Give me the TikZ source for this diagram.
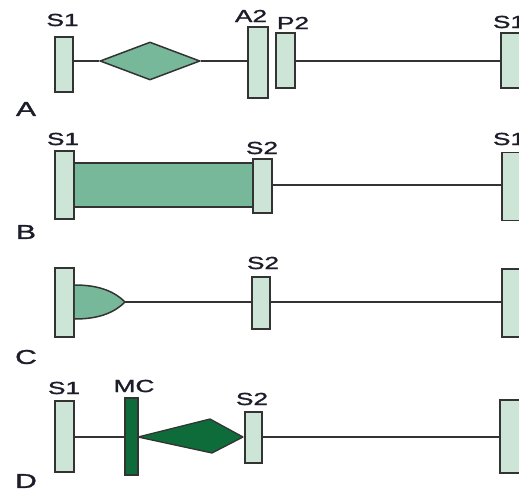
\documentclass[tikz,border=0pt]{standalone}
\usepackage{fontspec}
\setmainfont{Liberation Sans}
\newfontfamily\lblfont[FakeBold=1.3]{Liberation Sans}
\usetikzlibrary{shapes.geometric}
\definecolor{barfill}{HTML}{CDE5D7}
\definecolor{midfill}{HTML}{78B89A}
\definecolor{darkfill}{HTML}{0E6B3A}
\definecolor{edge}{HTML}{333333}
\definecolor{txt}{HTML}{1C1C2A}
\tikzset{
  bar/.style={draw=edge, fill=barfill, line width=1.5pt, rectangle, inner sep=0pt},
  conn/.style={draw=edge, line width=2pt},
  lbl/.style={text=txt, font=\lblfont\fontsize{17.5}{17.5}\selectfont, inner sep=0pt},
  rowlbl/.style={text=txt, font=\lblfont\fontsize{20}{20}\selectfont, inner sep=0pt},
}
\newcommand{\wide}[1]{\scalebox{1.5}[1]{#1}}
\begin{document}
\begin{tikzpicture}[x=1pt,y=-1pt]
\useasboundingbox (0,0) rectangle (519,490);
% ---------- Row A ----------
\node[bar, minimum width=18pt, minimum height=55pt] (as1) at (64,64.5) {};
\node[diamond, draw=edge, fill=midfill, line width=1.5pt, inner sep=0pt, minimum width=100pt, minimum height=38pt] (adia) at (150,61) {};
\node[bar, minimum width=20pt, minimum height=71pt] (aa2) at (258,62.5) {};
\node[bar, minimum width=19pt, minimum height=55pt] (ap2) at (285.5,60.5) {};
\node[bar, minimum width=20pt, minimum height=55pt] (ar) at (511,60.5) {};
\draw[conn] (as1.east |- adia.west) -- (adia.west);
\draw[conn] (adia.east) -- (adia.east -| aa2.west);
\draw[conn] (ap2.east) -- (ar.west);
\node[lbl] (las1) at (62.5,20) {\wide{S1}};
\node[lbl] (laa2) at (251,16) {\wide{A2}};
\node[lbl] (lap2) at (293,23) {\wide{P2}};
\node[lbl] (lar) at (509,22) {\wide{S1}};
\node[rowlbl] (rowa) at (26,109) {\wide{A}};
% ---------- Row B ----------
\node[draw=edge, fill=midfill, line width=1.5pt, rectangle, inner sep=0pt, minimum width=179pt, minimum height=44pt] (brect) at (163.5,185) {};
\node[bar, minimum width=19pt, minimum height=68pt] (bs1) at (64.5,185) {};
\node[bar, minimum width=19pt, minimum height=54pt] (bs2) at (262.5,186) {};
\node[bar, minimum width=20pt, minimum height=68pt] (br) at (512,186.5) {};
\draw[conn] (bs2.east |- brect.east) -- (brect.east -| br.west);
\node[lbl] (lbs1) at (63,139) {\wide{S1}};
\node[lbl] (lbs2) at (262,148) {\wide{S2}};
\node[lbl] (lbr) at (509,139) {\wide{S1}};
\node[rowlbl] (rowb) at (26,232) {\wide{B}};
% ---------- Row C ----------
\node[bar, minimum width=19pt, minimum height=69pt] (cs1) at (64.5,302.5) {};
\coordinate (ctip) at (125,302);
\draw[draw=edge, fill=midfill, line width=1.5pt] (cs1.east |- 0,285) .. controls (100,285) and (115,292) .. (ctip) .. controls (115,312) and (100,319) .. (cs1.east |- 0,319);
\node[bar, minimum width=18pt, minimum height=52pt] (cs2) at (261,303) {};
\node[bar, minimum width=18pt, minimum height=68pt] (cr) at (511,303) {};
\draw[conn] (ctip) -- (ctip -| cs2.west);
\draw[conn] (cs2.east |- ctip) -- (ctip -| cr.west);
\node[lbl] (lcs2) at (263,263) {\wide{S2}};
\node[rowlbl] (rowc) at (26,357) {\wide{C}};
% ---------- Row D ----------
\node[bar, minimum width=19pt, minimum height=71pt] (ds1) at (64.5,436.5) {};
\node[draw=edge, fill=darkfill, line width=1.3pt, rectangle, inner sep=0pt, minimum width=13pt, minimum height=77pt] (dmc) at (131.5,436.5) {};
\coordinate (dk1) at (138,437);
\coordinate (dk2) at (210,419);
\coordinate (dk3) at (243,437);
\coordinate (dk4) at (212,453);
\draw[draw=edge, fill=darkfill, line width=1.3pt, line join=round] (dk1) -- (dk2) -- (dk3) -- (dk4) -- cycle;
\node[bar, minimum width=17pt, minimum height=51pt] (ds2) at (253.5,437.5) {};
\node[bar, minimum width=20pt, minimum height=73pt] (dr) at (510,436.5) {};
\draw[conn] (ds1.east |- dk1) -- (dk1 -| dmc.west);
\draw[conn] (ds2.east |- dk1) -- (dk1 -| dr.west);
\node[lbl] (lds1) at (64,388) {\wide{S1}};
\node[lbl] (ldmc) at (134,386) {\wide{MC}};
\node[lbl] (lds2) at (252,399) {\wide{S2}};
\node[rowlbl] (rowd) at (26,481) {\wide{D}};
\end{tikzpicture}
\end{document}
